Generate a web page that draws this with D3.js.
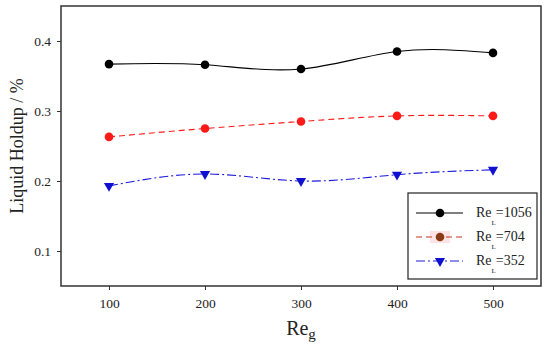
<!DOCTYPE html>
<html><head><meta charset="utf-8">
<script src="https://cdn.jsdelivr.net/npm/d3@7"></script>
</head><body style="margin:0;background:#fff"><svg id="c" width="550" height="354" style="display:block"></svg>
<script>
const reG = [100, 200, 300, 400, 500];
const holdup1056 = [0.367, 0.366, 0.360, 0.385, 0.383];
const holdup704 = [0.263, 0.275, 0.285, 0.293, 0.293];
const holdup352 = [0.193, 0.210, 0.200, 0.209, 0.216];
const yTicks = [0.1, 0.2, 0.3, 0.4];
const xTicks = [100, 200, 300, 400, 500];
const seriesNames = ["1056", "704", "352"];

const FONT = '"Liberation Serif"';
const svg = d3.select("#c");
const L = 61, R = 541, T = 6, B = 286;
const x = d3.scaleLinear().domain([50, 550]).range([L, R]);
const y = d3.scaleLinear().domain([0.05, 0.45]).range([B, T]);

const series = [
  {name: seriesNames[0], vals: holdup1056, color: "#000", dash: null, marker: "circle", mcolor: "#000"},
  {name: seriesNames[1], vals: holdup704, color: "#ff1a1a", dash: "6,4", marker: "circle", mcolor: "#ff1a1a"},
  {name: seriesNames[2], vals: holdup352, color: "#1a1adc", dash: "9,3,2,3", marker: "tri", mcolor: "#1010d0"}
];

const xa = svg.append("g").attr("transform", `translate(0,${B})`)
  .call(d3.axisBottom(x).tickValues(xTicks).tickSize(4).tickPadding(8).tickFormat(d3.format("d")));
const ya = svg.append("g").attr("transform", `translate(${L},0)`)
  .call(d3.axisLeft(y).tickValues(yTicks).tickSize(4).tickPadding(6).tickFormat(d3.format(".1f")));
[xa, ya].forEach(a => {
  a.select(".domain").remove();
  a.selectAll("line").attr("stroke", "#333");
  a.selectAll("text").style("font-family", FONT).attr("font-size", 13.5).attr("fill", "#222");
});

svg.append("rect").attr("x", L).attr("y", T).attr("width", R - L).attr("height", B - T)
  .attr("fill", "none").attr("stroke", "#333").attr("stroke-width", 1.5);

const line = d3.line().x((d, i) => x(reG[i])).y(d => y(d)).curve(d3.curveNatural);
const tri = d3.symbol().type(d3.symbolTriangle).size(45);

series.forEach(s => {
  svg.append("path").attr("d", line(s.vals)).attr("fill", "none")
    .attr("stroke", s.color).attr("stroke-width", 1.1).attr("stroke-dasharray", s.dash);
  s.vals.forEach((v, i) => {
    if (s.marker === "circle") {
      svg.append("circle").attr("cx", x(reG[i])).attr("cy", y(v)).attr("r", 4.3).attr("fill", s.mcolor);
    } else {
      svg.append("path").attr("d", tri).attr("transform", `translate(${x(reG[i])},${y(v)}) rotate(180)`).attr("fill", s.mcolor);
    }
  });
});

const lg = svg.append("g");
lg.append("rect").attr("x", 408).attr("y", 193).attr("width", 129).attr("height", 86)
  .attr("fill", "#fff").attr("stroke", "#222").attr("stroke-width", 1.2);
const legCols = [{line: "#000", m: "#000"}, {line: "#c0391e", m: "#8b3a16"}, {line: "#1a1adc", m: "#1010d0"}];
series.forEach((s, i) => {
  const ly = 213 + i * 24;
  if (i === 1) lg.append("rect").attr("x", 430).attr("y", ly - 6).attr("width", 20).attr("height", 12).attr("fill", "#fde3e6");
  lg.append("line").attr("x1", 416).attr("x2", 463).attr("y1", ly).attr("y2", ly)
    .attr("stroke", legCols[i].line).attr("stroke-width", 1.1).attr("stroke-dasharray", s.dash);
  if (s.marker === "circle") lg.append("circle").attr("cx", 440).attr("cy", ly).attr("r", 4.3).attr("fill", legCols[i].m);
  else lg.append("path").attr("d", tri).attr("transform", `translate(440,${ly}) rotate(180)`).attr("fill", legCols[i].m);
  const t = lg.append("text").attr("x", 476).attr("y", ly + 4).attr("font-size", 14).style("font-family", FONT).attr("fill", "#222");
  t.append("tspan").text("Re");
  t.append("tspan").attr("font-size", 7).attr("dy", 8).text("L");
  t.append("tspan").attr("dy", -8).text("=" + s.name);
});

svg.append("text").attr("transform", "translate(23,146) rotate(-90)").attr("text-anchor", "middle")
  .style("font-family", FONT).attr("font-size", 18).attr("fill", "#222").text("Liquid Holdup / %");
const xt = svg.append("text").attr("x", 301).attr("y", 335).attr("text-anchor", "middle")
  .style("font-family", FONT).attr("font-size", 20).attr("fill", "#222");
xt.append("tspan").text("Re");
xt.append("tspan").attr("font-size", 15).attr("dy", 4).text("g");
</script></body></html>
